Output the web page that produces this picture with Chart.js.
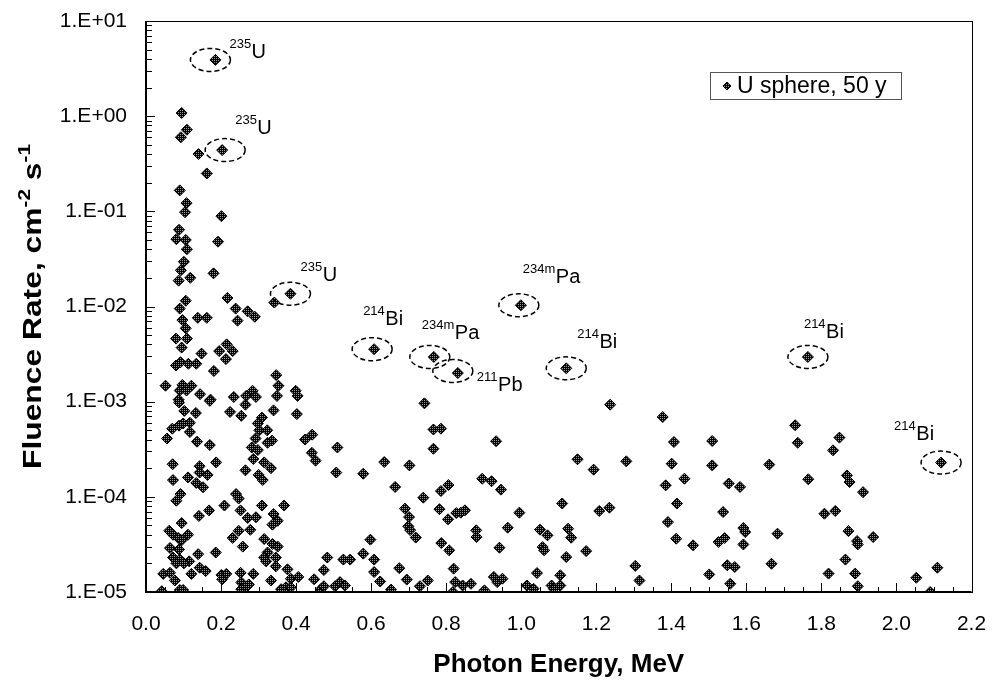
<!DOCTYPE html>
<html>
<head>
<meta charset="utf-8">
<script src="https://cdn.jsdelivr.net/npm/chart.js@4"></script>
<style>
html,body{margin:0;padding:0;background:#fff;}
canvas{display:block;}
</style>
</head>
<body>
<canvas id="c" width="992" height="683"></canvas>
<script>
// ---------------- data ----------------
const seriesName = 'U sphere, 50 y';
const energy = [
0.185,0.095,0.109,0.093,0.140,0.203,0.162,0.090,0.108,
0.104,0.201,0.088,0.081,0.106,0.109,0.192,0.101,0.093,0.087,0.118,0.180,0.385,0.342,0.217,0.106,0.090,0.239,0.271,0.290,0.244,
0.097,0.138,0.162,0.106,0.080,0.109,0.095,0.148,0.195,0.215,0.231,0.213,0.080,0.092,0.113,0.134,0.181,0.347,0.353,0.052,
0.097,0.121,0.090,0.108,0.144,0.349,0.399,0.404,0.234,0.267,0.284,0.293,0.087,0.172,
0.088,0.170,0.265,0.102,0.133,0.224,0.254,0.309,0.340,0.402,0.117,0.099,0.088,0.070,0.056,0.117,0.298,0.302,0.323,0.292,
0.336,0.324,0.136,0.170,0.282,0.298,0.424,0.443,0.442,0.452,0.071,0.187,0.286,0.315,0.333,0.265,0.143,0.143,0.164,0.112,
0.300,0.311,0.072,0.134,0.152,0.092,0.081,0.240,0.247,0.209,0.309,0.368,0.141,0.168,0.252,0.271,0.293,0.340,0.351,0.337,
0.095,0.062,0.072,0.086,0.095,0.112,0.231,0.247,0.278,0.315,0.337,0.351,0.258,0.064,0.088,0.186,0.139,0.324,0.315,0.320,
0.346,0.072,0.090,0.115,0.081,0.101,0.346,0.377,0.483,0.474,0.143,0.159,0.121,0.046,0.064,0.077,0.201,0.214,0.203,0.252,
0.286,0.254,0.333,0.386,0.406,0.448,0.042,0.090,0.099,0.254,0.267,0.274,0.360,0.373,0.386,0.466,0.474,
0.608,0.767,0.831,0.999,1.120,0.742,0.766,0.786,0.766,0.510,0.507,0.579,0.635,0.702,0.933,1.150,0.664,0.739,0.786,0.806,
0.896,0.921,0.946,0.690,0.701,0.699,0.704,0.719,0.782,0.805,0.827,0.839,0.850,0.995,0.964,0.880,0.881,0.942,1.050,1.070,
1.057,1.061,1.109,1.125,1.133,1.120,1.104,0.598,0.579,0.608,0.608,0.624,0.787,0.808,0.820,0.675,0.695,0.730,0.751,0.653,
0.526,0.544,0.504,0.517,0.530,0.824,0.844,0.866,0.818,0.902,0.927,0.936,0.950,1.015,1.033,1.042,1.081,1.104,1.087,
1.237,1.377,1.764,1.730,1.737,1.193,1.280,1.407,1.401,1.509,1.509,1.661,1.385,1.435,1.553,1.583,1.765,1.208,1.235,1.415,
1.391,1.538,1.808,1.592,1.597,1.683,1.413,1.458,1.526,1.542,1.592,1.173,1.304,1.315,1.501,1.549,1.569,1.557,1.667,1.819,
1.848,1.831,1.868,1.875,1.911,1.837,1.872,1.895,1.897,1.938,1.864,1.890,1.897,2.053,2.109,2.090,2.119
];
const fluence = [
3.9,1.08,0.72,0.60,0.40,0.44,0.25,0.166,0.122,
0.098,0.089,0.064,0.051,0.050,0.040,0.048,0.0295,0.024,0.0187,0.020,0.0223,0.0136,0.011,0.0123,0.0115,0.0095,0.0095,0.0089,0.0078,0.0071,
0.0072,0.0076,0.0076,0.0059,0.0046,0.0046,0.0037,0.0032,0.0034,0.0040,0.0034,0.0028,0.0024,0.0026,0.0025,0.0025,0.0021,0.0019,0.00147,0.00147,
0.0015,0.00147,0.00131,0.00131,0.0012,0.00115,0.0013,0.00115,0.00112,0.00115,0.0013,0.00112,0.00105,0.00105,
0.00098,0.00102,0.00093,0.0008,0.00076,0.00078,0.00071,0.00068,0.00081,0.00074,0.0006,0.00059,0.00056,0.00052,0.00041,0.00048,0.00059,0.0005,0.0005,0.00041,
0.00039,0.00037,0.00038,0.00035,0.00033,0.00031,0.0004,0.00045,0.00029,0.00024,0.00022,0.00023,0.00025,0.00023,0.0002,0.00019,0.00021,0.00018,0.00017,0.00016,
0.00017,0.00015,0.00015,0.00014,0.000126,0.000107,0.000091,0.000107,0.000096,0.000081,0.000081,0.000081,0.000063,0.000072,0.000072,0.00006,0.000061,0.000066,0.000056,0.000051,
0.000053,0.000044,0.00004,0.000037,0.000035,0.00004,0.000037,0.000044,0.000045,0.000036,0.000032,0.00003,0.00003,0.000029,0.000028,0.000026,0.000025,0.000026,0.000023,0.000021,
0.000023,0.000023,0.000022,0.000021,0.00002,0.00002,0.0000186,0.0000173,0.000023,0.000017,0.000018,0.0000166,0.0000155,0.0000155,0.0000159,0.0000132,0.0000151,0.0000155,0.0000136,0.0000159,
0.0000155,0.0000126,0.0000132,0.0000138,0.0000144,0.0000136,0.0000102,0.0000105,0.0000105,0.0000107,0.0000112,0.000012,0.0000107,0.0000112,0.0000112,0.0000107,0.0000115,
0.00356,0.00295,0.0020,0.0103,0.00224,0.00096,0.00051,0.00052,0.00032,0.00033,0.00018,0.000175,0.000232,0.000214,0.000384,0.000248,0.000127,0.000098,0.000115,0.000133,
0.000155,0.000146,0.000119,0.0000752,0.0000613,0.000049,0.0000447,0.0000373,0.0000742,0.000058,0.0000676,0.0000682,0.0000721,0.0000682,0.0000474,0.0000445,0.0000378,0.0000292,0.0000452,0.0000394,
0.0000297,0.0000274,0.0000851,0.0000463,0.0000372,0.0000233,0.000015,0.0000355,0.0000253,0.0000219,0.0000162,0.0000129,0.0000327,0.0000274,0.0000176,0.0000178,0.0000135,0.0000115,0.0000132,0.0000106,
0.0000219,0.0000219,0.0000115,0.0000127,0.0000117,0.0000127,0.0000117,0.0000122,0.00001,0.0000104,0.0000144,0.0000127,0.0000138,0.0000117,0.0000108,0.0000158,0.0000117,0.0000117,0.0000108,
0.00093,0.00069,0.00295,0.000565,0.00037,0.000193,0.000236,0.000377,0.000223,0.000386,0.000214,0.000218,0.000132,0.000155,0.000138,0.000127,0.000153,0.000071,0.0000769,0.000085,
0.0000543,0.0000692,0.0000665,0.000047,0.0000427,0.000041,0.0000363,0.0000309,0.0000335,0.0000369,0.0000316,0.0000269,0.0000188,0.0000132,0.0000153,0.0000191,0.0000183,0.0000122,0.0000198,0.0000156,
0.000419,0.000308,0.000168,0.000143,0.000112,0.000071,0.0000437,0.0000343,0.0000316,0.0000378,0.0000219,0.0000156,0.0000115,0.0000141,0.000018,0.00001,0.000229
];
const xTickValues = [0,0.2,0.4,0.6,0.8,1.0,1.2,1.4,1.6,1.8,2.0,2.2];
const xTickLabels = ['0.0','0.2','0.4','0.6','0.8','1.0','1.2','1.4','1.6','1.8','2.0','2.2'];
const yTickValues = [1e-5,1e-4,1e-3,1e-2,1e-1,1,10];
const yTickLabels = ['1.E-05','1.E-04','1.E-03','1.E-02','1.E-01','1.E+00','1.E+01'];
const xTitle = 'Photon Energy, MeV';
const yTitleParts = [['Fluence Rate, cm',false],['-2',true],[' s',false],['-1',true]];
// circled lines: energy, fluence, mass number, element
const annEnergy  = [0.185,0.203,0.385,0.608,0.767,0.831,0.999,1.120,1.764,2.119];
const annFluence = [3.9,0.44,0.0136,0.00356,0.00295,0.0020,0.0103,0.00224,0.00295,0.000229];
const annMass    = ['235','235','235','214','234m','211','234m','214','214','214'];
const annSymbol  = ['U','U','U','Bi','Pa','Pb','Pa','Bi','Bi','Bi'];
// label placement (pixel offsets of text start / baseline; ellipse centre offset)
const annStyle = [
 {dx:14,dy:-2,ex:-5,ey:0},{dx:13,dy:-16,ex:3,ey:0},{dx:10,dy:-13,ex:0,ey:0},
 {dx:-11,dy:-24,ex:-2,ey:0},{dx:-12,dy:-18,ex:-4,ey:0},{dx:19,dy:18,ex:-5,ey:-2},
 {dx:2,dy:-22,ex:-2,ey:0},{dx:11,dy:-20,ex:0,ey:0},{dx:-4,dy:-19,ex:0,ey:0},{dx:-47,dy:-23,ex:0,ey:0}
];

const FONT = '"Liberation Sans", Arial, Helvetica, sans-serif';

// marker fill pattern (dark stipple)
const pc = document.createElement('canvas'); pc.width = 2; pc.height = 2;
const pctx = pc.getContext('2d');
pctx.fillStyle = '#000'; pctx.fillRect(0,0,2,2);
pctx.fillStyle = '#9a9a9a'; pctx.fillRect(0,0,1,1);
const ctx0 = document.getElementById('c').getContext('2d');
const markerFill = ctx0.createPattern(pc,'repeat');

const points = energy.map((e,i)=>({x:e,y:fluence[i]}));

function drawMarker(ctx,x,y,r){
  ctx.beginPath();
  ctx.moveTo(x,y-r);ctx.lineTo(x+r,y);ctx.lineTo(x,y+r);ctx.lineTo(x-r,y);ctx.closePath();
  ctx.fillStyle = markerFill; ctx.fill();
  ctx.strokeStyle='#000'; ctx.lineWidth=1; ctx.stroke();
}
function zeroPad(s){ s.paddingTop=0; s.paddingBottom=0; s.paddingLeft=0; s.paddingRight=0; }

const framePlugin = {
  id:'frame',
  beforeDatasetsDraw(chart){
    const {ctx, chartArea:a, scales:{x,y}} = chart;
    ctx.save();
    ctx.strokeStyle='#000';
    ctx.lineWidth=1;
    for(let k=0;k<=44;k++){
      const v=k*0.05, px=Math.round(x.getPixelForValue(v))+0.5;
      const len = (k%4===0)?9:5;
      ctx.beginPath();ctx.moveTo(px,a.bottom);ctx.lineTo(px,a.bottom-len);ctx.stroke();
    }
    for(let d=-5; d<=0; d++){
      for(let m=1;m<=9;m++){
        const v=m*Math.pow(10,d); const py=Math.round(y.getPixelForValue(v))+0.5;
        const len=(m===1)?9:6;
        ctx.beginPath();ctx.moveTo(a.left,py);ctx.lineTo(a.left+len,py);ctx.stroke();
      }
    }
    ctx.lineWidth=1;
    ctx.strokeRect(Math.round(a.left)+0.5,Math.round(a.top)+0.5,Math.round(a.right-a.left),Math.round(a.bottom-a.top));
    ctx.lineWidth=2;
    ctx.beginPath();
    ctx.moveTo(a.left,a.top);ctx.lineTo(a.left,a.bottom);ctx.lineTo(a.right,a.bottom);
    ctx.stroke();
    ctx.restore();
  },
  afterDraw(chart){
    const {ctx, chartArea:a, scales:{x,y}} = chart;
    ctx.save();
    ctx.fillStyle='#000'; ctx.textBaseline='alphabetic';
    annEnergy.forEach((e,i)=>{
      const px=x.getPixelForValue(e), py=y.getPixelForValue(annFluence[i]);
      const s=annStyle[i];
      ctx.save();
      ctx.setLineDash([5,3]); ctx.lineWidth=1.5; ctx.strokeStyle='#000';
      ctx.beginPath(); ctx.ellipse(px+s.ex,py+s.ey,20,11.5,0,0,Math.PI*2); ctx.stroke();
      ctx.restore();
      const tx=px+s.dx, ty=py+s.dy;
      ctx.font='13px '+FONT; ctx.textAlign='left';
      ctx.fillText(annMass[i],tx,ty-10);
      const w=ctx.measureText(annMass[i]).width;
      ctx.font='20px '+FONT;
      ctx.fillText(annSymbol[i],tx+w+0.5,ty);
    });
    // legend
    ctx.lineWidth=1; ctx.strokeStyle='#555';
    ctx.strokeRect(710.5,72.5,191,27);
    drawMarker(ctx,727,86,4);
    ctx.fillStyle='#000'; ctx.font='23px '+FONT; ctx.textAlign='left';
    ctx.fillText(seriesName,737,93);
    // x title
    ctx.font='bold 26px '+FONT; ctx.textAlign='center';
    ctx.fillText(xTitle,(a.left+a.right)/2,672);
    // y title (rotated, with superscripts)
    ctx.save();
    ctx.translate(41,(a.top+a.bottom)/2); ctx.rotate(-Math.PI/2);
    let total=0;
    const widths=yTitleParts.map(([t,sup])=>{ctx.font='bold '+(sup?17:26)+'px '+FONT; const w=ctx.measureText(t).width; total+=w; return w;});
    const stretch = 325/total;
    ctx.scale(stretch,1);
    let cx=-total/2; ctx.textAlign='left';
    yTitleParts.forEach(([t,sup],i)=>{
      ctx.font='bold '+(sup?17:26)+'px '+FONT;
      ctx.fillText(t,cx,sup?-11:0); cx+=widths[i];
    });
    ctx.restore();
    ctx.restore();
  }
};

new Chart(ctx0,{
  type:'scatter',
  data:{datasets:[{
    label:seriesName, data:points,
    pointStyle:'rectRot', pointRadius:5.5, pointHoverRadius:5.5,
    backgroundColor:markerFill, borderColor:'#000', borderWidth:1, showLine:false
  }]},
  options:{
    responsive:false, animation:false, devicePixelRatio:1,
    layout:{padding:{left:0,right:20.5,top:21,bottom:0}},
    plugins:{legend:{display:false},tooltip:{enabled:false}},
    events:[],
    scales:{
      x:{type:'linear',min:0,max:2.2,
        afterBuildTicks:s=>{s.ticks=xTickValues.map(v=>({value:v}));},
        ticks:{callback:(v,i)=>xTickLabels[i],color:'#000',font:{size:21,family:FONT},padding:20,maxRotation:0,autoSkip:false},
        grid:{display:false,drawTicks:false},border:{display:false},
        afterFit:s=>{s.height=91; zeroPad(s);}
      },
      y:{type:'logarithmic',min:1e-5,max:10,
        afterBuildTicks:s=>{s.ticks=yTickValues.map(v=>({value:v}));},
        ticks:{callback:(v,i)=>yTickLabels[i],color:'#000',font:{size:21,family:FONT},padding:19,autoSkip:false},
        grid:{display:false,drawTicks:false},border:{display:false},
        afterFit:s=>{s.width=146; zeroPad(s);}
      }
    }
  },
  plugins:[framePlugin]
});
</script>
</body>
</html>
